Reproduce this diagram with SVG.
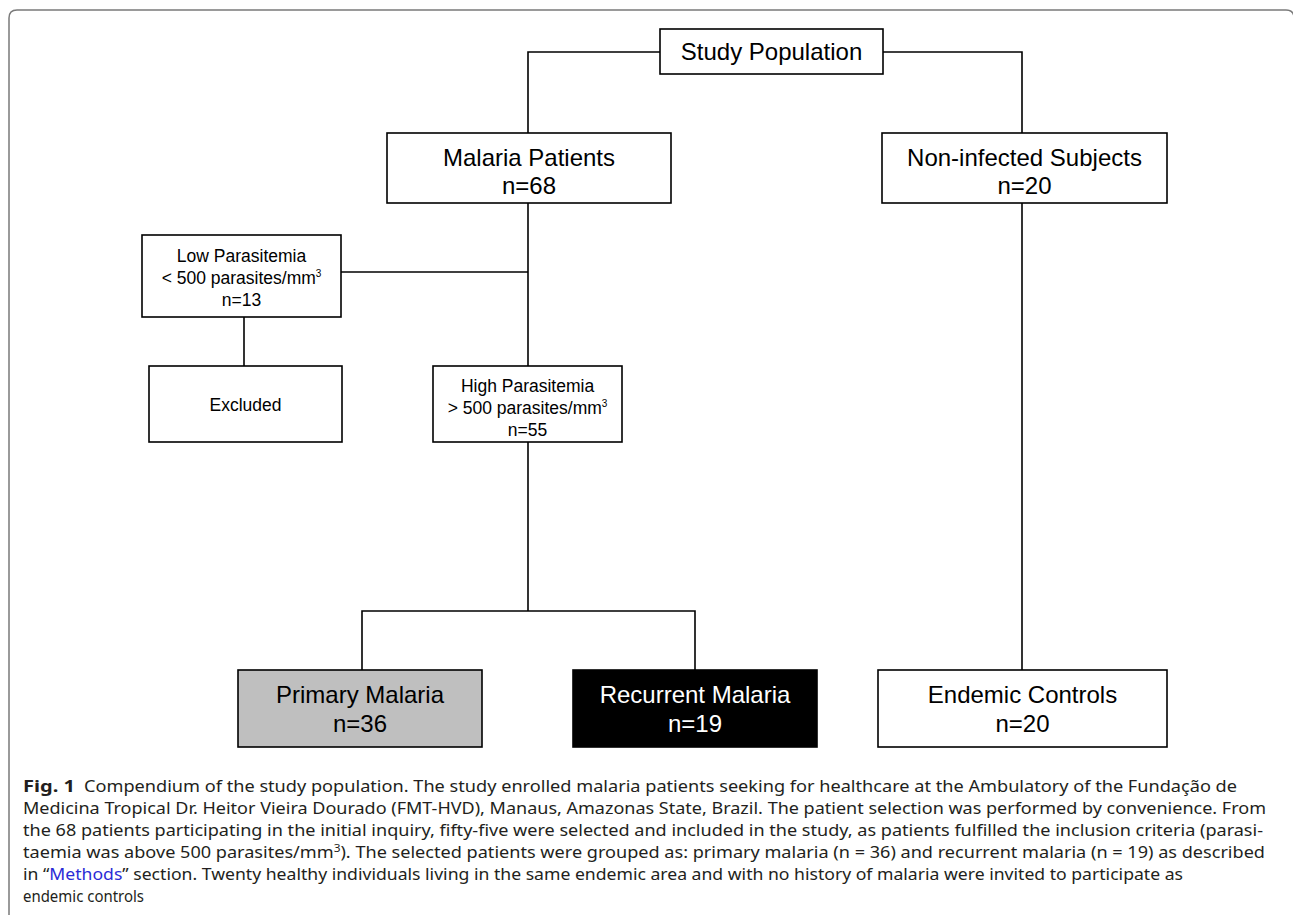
<svg xmlns="http://www.w3.org/2000/svg" width="1293" height="915" viewBox="0 0 1293 915">
<style>
.box{fill:#fff;stroke:#000;stroke-width:1.6}
.con{fill:none;stroke:#000;stroke-width:1.6}
.t24{font-family:"Liberation Sans",Arial,sans-serif;font-size:24px;fill:#000;text-anchor:middle}
.t17{font-family:"Liberation Sans",Arial,sans-serif;font-size:17.5px;fill:#000;text-anchor:middle}
.sup{font-size:10px}
.cap{font-family:"Noto Sans","Open Sans",sans-serif;font-size:16.8px;fill:#231f20}
.capb{font-family:"Noto Sans","Open Sans",sans-serif;font-size:16.8px;font-weight:bold;fill:#231f20}
.link{fill:#2b2bd6}
</style>
<rect width="1293" height="915" fill="#fff"/>
<path d="M9,930 V18 Q9,10 17,10 H1286 Q1294,10 1294,18 V930" fill="none" stroke="#7a7a7a" stroke-width="1.5"/>
<g id="connectors">
<path class="con" d="M660,52 H528 V133"/>
<path class="con" d="M883,52 H1022 V133"/>
<path class="con" d="M528,203 V366"/>
<path class="con" d="M341,272 H528"/>
<path class="con" d="M244,317 V366"/>
<path class="con" d="M528,442 V611"/>
<path class="con" d="M362,670 V611 H695 V670"/>
<path class="con" d="M1022,203 V670"/>
</g>
<g id="study-population">
<rect class="box" x="660" y="29" width="223" height="45"/>
<text class="t24" x="771.5" y="60">Study Population</text>
</g>
<g id="malaria-patients">
<rect class="box" x="387" y="133" width="284" height="70"/>
<text class="t24" x="529" y="166">Malaria Patients</text>
<text class="t24" x="529" y="194">n=68</text>
</g>
<g id="non-infected">
<rect class="box" x="882" y="133" width="285" height="70"/>
<text class="t24" x="1024.5" y="166">Non-infected Subjects</text>
<text class="t24" x="1024.5" y="194">n=20</text>
</g>
<g id="low-parasitemia">
<rect class="box" x="142" y="235" width="199" height="82"/>
<text class="t17" x="241.5" y="262">Low Parasitemia</text>
<text class="t17" x="241.5" y="284">&lt; 500 parasites/mm<tspan class="sup" dy="-7">3</tspan></text>
<text class="t17" x="241.5" y="306">n=13</text>
</g>
<g id="excluded">
<rect class="box" x="149" y="366" width="193" height="76"/>
<text class="t17" x="245.5" y="411">Excluded</text>
</g>
<g id="high-parasitemia">
<rect class="box" x="433" y="366" width="189" height="76"/>
<text class="t17" x="527.5" y="392">High Parasitemia</text>
<text class="t17" x="527.5" y="414">&gt; 500 parasites/mm<tspan class="sup" dy="-7">3</tspan></text>
<text class="t17" x="527.5" y="436">n=55</text>
</g>
<g id="primary-malaria">
<rect x="238" y="670" width="244" height="77" fill="#bfbfbf" stroke="#000" stroke-width="1.6"/>
<text class="t24" x="360" y="703">Primary Malaria</text>
<text class="t24" x="360" y="732">n=36</text>
</g>
<g id="recurrent-malaria">
<rect x="573" y="670" width="244" height="77" fill="#000" stroke="#000" stroke-width="1.6"/>
<text class="t24" x="695" y="703" style="fill:#fff">Recurrent Malaria</text>
<text class="t24" x="695" y="732" style="fill:#fff">n=19</text>
</g>
<g id="endemic-controls">
<rect class="box" x="878" y="670" width="289" height="77"/>
<text class="t24" x="1022.5" y="703">Endemic Controls</text>
<text class="t24" x="1022.5" y="732">n=20</text>
</g>
<g id="caption">
<text class="capb" x="23" y="792" textLength="52" lengthAdjust="spacingAndGlyphs">Fig. 1</text>
<text class="cap" x="84" y="792" textLength="1153" lengthAdjust="spacingAndGlyphs">Compendium of the study population. The study enrolled malaria patients seeking for healthcare at the Ambulatory of the Fundação de</text>
<text class="cap" x="23" y="814" textLength="1243" lengthAdjust="spacingAndGlyphs">Medicina Tropical Dr. Heitor Vieira Dourado (FMT-HVD), Manaus, Amazonas State, Brazil. The patient selection was performed by convenience. From</text>
<text class="cap" x="23" y="836" textLength="1240" lengthAdjust="spacingAndGlyphs">the 68 patients participating in the initial inquiry, fifty-five were selected and included in the study, as patients fulfilled the inclusion criteria (parasi-</text>
<text class="cap" x="23" y="858" textLength="1242" lengthAdjust="spacingAndGlyphs">taemia was above 500 parasites/mm<tspan dy="-6" font-size="11">3</tspan><tspan dy="6">). The selected patients were grouped as: primary malaria (n = 36) and recurrent malaria (n = 19) as described</tspan></text>
<text class="cap" x="23" y="880" textLength="1160" lengthAdjust="spacingAndGlyphs">in “<tspan class="link">Methods</tspan>” section. Twenty healthy individuals living in the same endemic area and with no history of malaria were invited to participate as</text>
<text class="cap" x="23" y="902" textLength="121" lengthAdjust="spacingAndGlyphs">endemic controls</text>
</g>
</svg>
